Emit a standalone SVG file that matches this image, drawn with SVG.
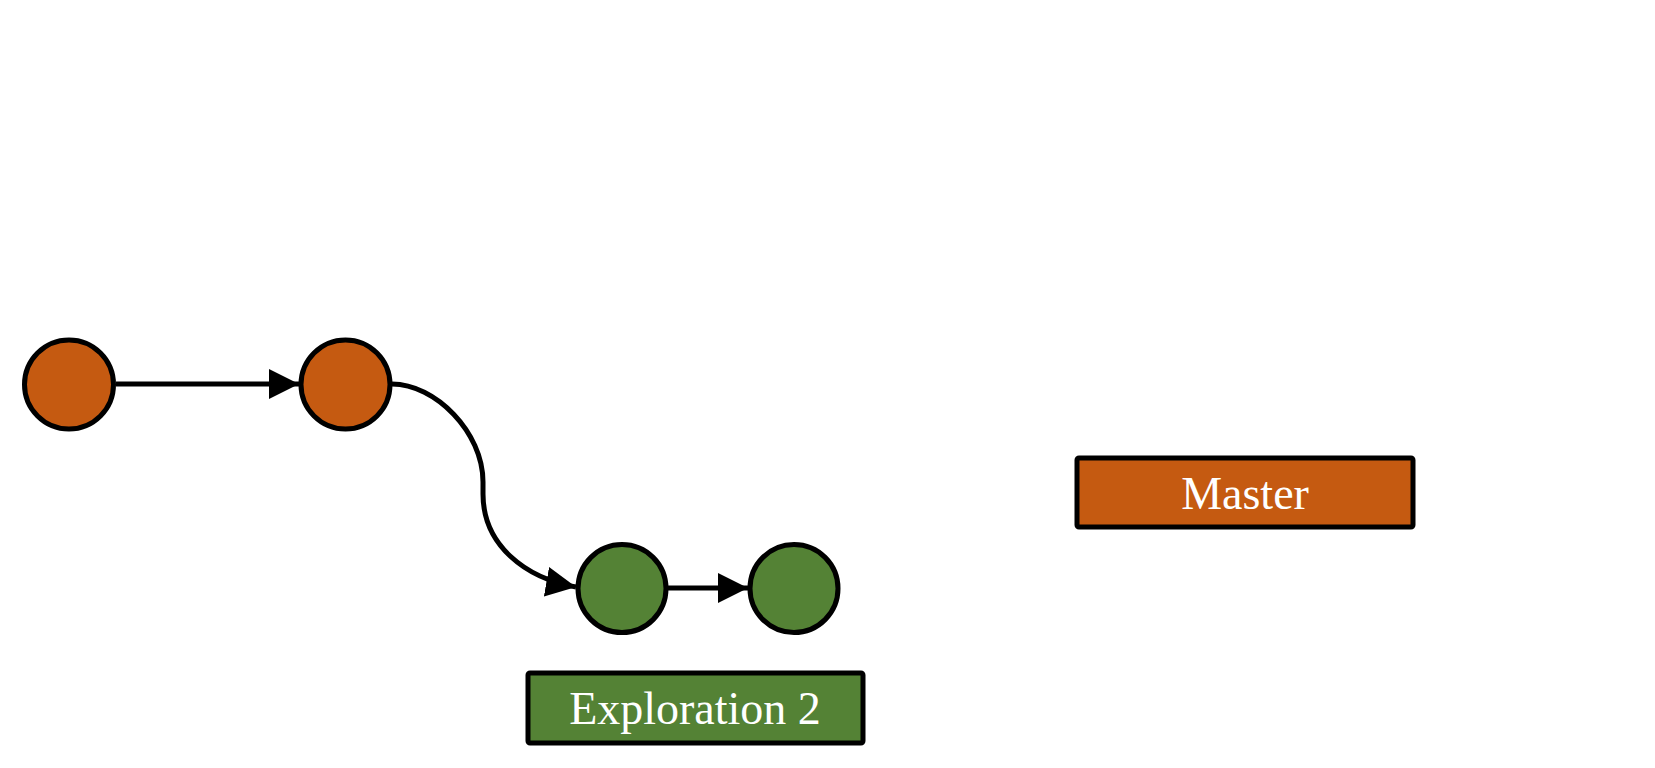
<svg xmlns="http://www.w3.org/2000/svg" width="1655" height="768" viewBox="0 0 1655 768">
<style>
.c{stroke:#000;stroke-width:5}
.o{fill:#C55A11}
.g{fill:#548235}
.e{fill:none;stroke:#000;stroke-width:5}
.lbl{font-family:"Liberation Serif","Times New Roman",serif;font-size:46px;fill:#fff;text-anchor:middle}
</style>
<defs>
<marker id="ah" markerUnits="userSpaceOnUse" markerWidth="30" markerHeight="30" refX="30" refY="15" orient="auto" viewBox="0 0 30 30">
<path d="M0 0 L30 15 L0 30 Z" fill="#000"/>
</marker>
</defs>
<g id="connectors">
<path class="e" d="M116 384 L299 384" marker-end="url(#ah)"/>
<path class="e" d="M392 384 C435 384 483 432 483 482 L483 494 C483 545 525 578 576 587" marker-end="url(#ah)"/>
<path class="e" d="M668 588 L748 588" marker-end="url(#ah)"/>
</g>
<g id="n1"><circle class="c o" cx="69" cy="384.5" r="44.5"/></g>
<g id="n2"><circle class="c o" cx="345.5" cy="384.5" r="44.5"/></g>
<g id="n3"><circle class="c g" cx="622" cy="588.5" r="44"/></g>
<g id="n4"><circle class="c g" cx="794" cy="588.5" r="44"/></g>
<g id="master"><rect class="c o" x="1077" y="458" width="336" height="69" rx="2"/><text class="lbl" x="1245" y="509">Master</text></g>
<g id="exploration2"><rect class="c g" x="528" y="673" width="335" height="70" rx="2"/><text class="lbl" x="695" y="724">Exploration 2</text></g>
</svg>
